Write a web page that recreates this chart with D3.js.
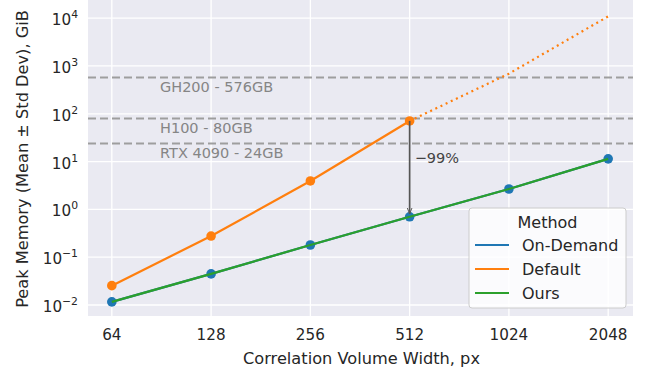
<!DOCTYPE html>
<html lang="en">
<head>
<meta charset="utf-8">
<title>Peak Memory</title>
<script src="https://cdnjs.cloudflare.com/ajax/libs/d3/7.8.5/d3.min.js"></script>
<style>
  body { margin: 0; background: #fff; }
  text { font-family: "DejaVu Sans", sans-serif; }
</style>
</head>
<body>
<svg id="chart" width="645" height="373"></svg>
<script>
// data
var widths = [64, 128, 256, 512, 1024, 2048];
var onDemand = [0.0116, 0.0447, 0.18, 0.70, 2.67, 11.4];
var ours = [0.0116, 0.0447, 0.18, 0.70, 2.67, 11.4];
var defaultMeasured = [0.0254, 0.277, 3.93, 70.8];
var defaultProjected = [70.8, 690, 10900];   // dotted part, 512..2048
var gpuNames = ["GH200 - 576GB", "H100 - 80GB", "RTX 4090 - 24GB"];
var gpuMem = [576, 80, 24];
var yTicks = [-2, -1, 0, 1, 2, 3, 4];
var series = ["On-Demand", "Default", "Ours"];
var colors = ["#1f77b4", "#ff7f0e", "#2ca02c"];

var svg = d3.select("#chart");
var L = 88, R = 633, T = 0, B = 316;

var x = d3.scaleLog().base(2)
    .domain([64 / Math.pow(2, 0.24), 2048 * Math.pow(2, 0.25)])
    .range([L, R]);
var y = d3.scaleLog()
    .domain([Math.pow(10, -2.23), Math.pow(10, 4.38)])
    .range([B, T]);

svg.append("rect").attr("x", L).attr("y", T)
    .attr("width", R - L).attr("height", B - T).attr("fill", "#eaeaf2");

// grid
svg.append("g").selectAll("line").data(widths).enter().append("line")
    .attr("x1", d => x(d)).attr("x2", d => x(d))
    .attr("y1", T).attr("y2", B)
    .attr("stroke", "#fff").attr("stroke-width", 1.3);
svg.append("g").selectAll("line").data(yTicks).enter().append("line")
    .attr("x1", L).attr("x2", R)
    .attr("y1", d => y(Math.pow(10, d))).attr("y2", d => y(Math.pow(10, d)))
    .attr("stroke", "#fff").attr("stroke-width", 1.3);

// x tick labels
svg.append("g").selectAll("text").data(widths).enter().append("text")
    .attr("x", d => x(d)).attr("y", 340)
    .attr("text-anchor", "middle").attr("font-size", 15.2).attr("fill", "#262626")
    .text(d => d);

// y tick labels with superscript
var yl = svg.append("g").selectAll("text").data(yTicks).enter().append("text")
    .attr("x", 78).attr("y", d => y(Math.pow(10, d)) + 7)
    .attr("text-anchor", "end").attr("font-size", 15.2).attr("fill", "#262626");
yl.append("tspan").text("10");
yl.append("tspan").attr("dy", -7).attr("font-size", 10.8)
    .text(d => d < 0 ? "\u2212" + (-d) : String(d));

// axis labels
svg.append("text").attr("x", (L + R) / 2 + 1).attr("y", 364)
    .attr("text-anchor", "middle").attr("font-size", 16.2).attr("fill", "#262626")
    .text("Correlation Volume Width, px");
svg.append("text")
    .attr("transform", "translate(28," + 159 + ") rotate(-90)")
    .attr("text-anchor", "middle").attr("font-size", 16.2).attr("fill", "#262626")
    .text("Peak Memory (Mean \u00b1 Std Dev), GiB");

// GPU memory lines
svg.append("g").selectAll("line").data(gpuMem).enter().append("line")
    .attr("x1", L).attr("x2", R)
    .attr("y1", d => y(d)).attr("y2", d => y(d))
    .attr("stroke", "#9e9e9e").attr("stroke-width", 2).attr("stroke-dasharray", "8,4");
svg.append("g").selectAll("text").data(gpuNames).enter().append("text")
    .attr("x", 160).attr("y", (d, i) => y(gpuMem[i]) + 15)
    .attr("font-size", 14.5).attr("fill", "#858585")
    .text(d => d);

var line = d3.line().x(d => x(d[0])).y(d => y(d[1]));

// on-demand
svg.append("path").datum(widths.map((w, i) => [w, onDemand[i]]))
    .attr("d", line).attr("fill", "none").attr("stroke", colors[0]).attr("stroke-width", 2.2);

// default measured + projected
svg.append("path").datum(widths.slice(3).map((w, i) => [w, defaultProjected[i]]))
    .attr("d", line).attr("fill", "none").attr("stroke", colors[1])
    .attr("stroke-width", 2.2).attr("stroke-dasharray", "2,3.7");
svg.append("path").datum(defaultMeasured.map((v, i) => [widths[i], v]))
    .attr("d", line).attr("fill", "none").attr("stroke", colors[1]).attr("stroke-width", 2.2);
svg.append("g").selectAll("circle").data(defaultMeasured).enter().append("circle")
    .attr("cx", (d, i) => x(widths[i])).attr("cy", d => y(d)).attr("r", 4.8)
    .attr("fill", colors[1]);

svg.append("g").selectAll("circle").data(onDemand).enter().append("circle")
    .attr("cx", (d, i) => x(widths[i])).attr("cy", d => y(d)).attr("r", 4.8)
    .attr("fill", colors[0]);

// ours
svg.append("path").datum(widths.map((w, i) => [w, ours[i]]))
    .attr("d", line).attr("fill", "none").attr("stroke", colors[2]).attr("stroke-width", 2.2);

// reduction arrow
svg.append("defs").append("marker").attr("id", "ah")
    .attr("viewBox", "0 0 10 10").attr("refX", 10).attr("refY", 5)
    .attr("markerWidth", 6).attr("markerHeight", 6).attr("orient", "auto")
    .attr("markerUnits", "userSpaceOnUse")
    .append("path").attr("d", "M0,1 L10,5 L0,9").attr("fill", "none")
    .attr("stroke", "#555").attr("stroke-width", 1.6);
svg.append("line")
    .attr("x1", x(512)).attr("x2", x(512))
    .attr("y1", y(defaultMeasured[3])).attr("y2", y(onDemand[3]) - 3)
    .attr("stroke", "#555").attr("stroke-width", 1.7).attr("marker-end", "url(#ah)");
svg.append("text").attr("x", x(512) + 5).attr("y", 163)
    .attr("font-size", 14.5).attr("fill", "#444").text("\u221299%");

// legend
var lg = svg.append("g").attr("transform", "translate(469,208)");
lg.append("rect").attr("width", 157).attr("height", 100).attr("rx", 3)
    .attr("fill", "#fff").attr("fill-opacity", 0.8)
    .attr("stroke", "#ccc").attr("stroke-width", 1);
lg.append("text").attr("x", 78.5).attr("y", 19.5).attr("text-anchor", "middle")
    .attr("font-size", 16).attr("fill", "#262626").text("Method");
var items = lg.selectAll("g.item").data(series).enter().append("g")
    .attr("transform", (d, i) => "translate(0," + (37 + i * 24) + ")");
items.append("line").attr("x1", 6).attr("x2", 40)
    .attr("stroke", (d, i) => colors[i]).attr("stroke-width", 2.2);
items.append("text").attr("x", 53).attr("y", 6)
    .attr("font-size", 16).attr("fill", "#262626").text(d => d);
</script>
</body>
</html>
